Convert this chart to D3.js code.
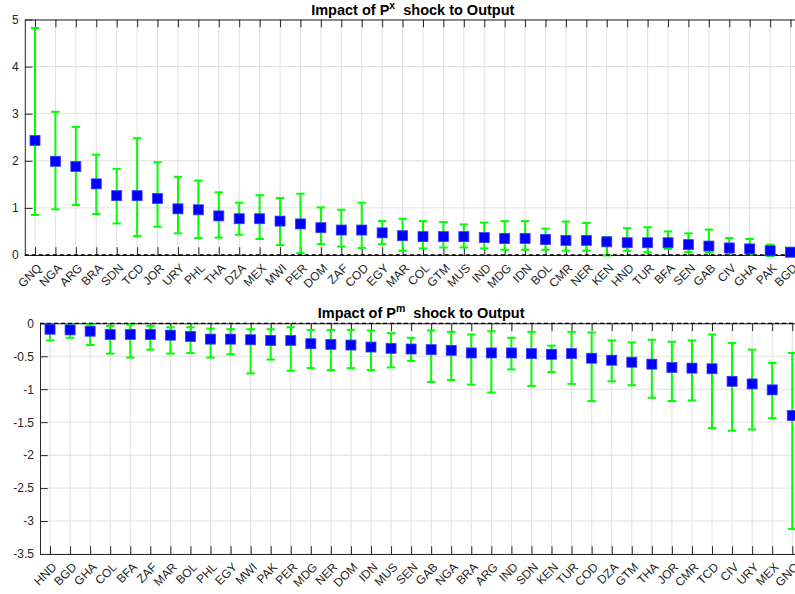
<!DOCTYPE html>
<html>
<head>
<meta charset="utf-8">
<script src="https://cdn.jsdelivr.net/npm/d3@7"></script>
<style>
  body { margin: 0; background: #fff; }
  svg { display: block; font-family: "Liberation Sans", Arial, Helvetica, sans-serif; }
</style>
</head>
<body>
<svg id="chart" width="795" height="594"></svg>
<script>
// Impact of Px shock (top panel)
const pxCountries = ["GNQ","NGA","ARG","BRA","SDN","TCD","JOR","URY","PHL","THA","DZA","MEX","MWI","PER","DOM","ZAF","COD","EGY","MAR","COL","GTM","MUS","IND","MDG","IDN","BOL","CMR","NER","KEN","HND","TUR","BFA","SEN","GAB","CIV","GHA","PAK","BGD"];
const pxMean = [2.43,1.99,1.88,1.51,1.26,1.26,1.20,0.98,0.96,0.83,0.77,0.77,0.72,0.66,0.58,0.53,0.53,0.47,0.41,0.39,0.39,0.39,0.37,0.35,0.35,0.33,0.31,0.31,0.28,0.26,0.26,0.26,0.22,0.19,0.15,0.13,0.09,0.06];
const pxLow  = [0.85,0.97,1.06,0.87,0.67,0.40,0.60,0.46,0.36,0.37,0.43,0.34,0.21,0.04,0.23,0.18,0.15,0.23,0.09,0.14,0.16,0.16,0.14,0.11,0.11,0.11,0.09,0.09,-0.01,0.09,0.06,0.13,0.06,0.05,0.04,0.01,-0.02,-0.03];
const pxHigh = [4.82,3.04,2.72,2.13,1.83,2.48,1.97,1.66,1.58,1.33,1.11,1.27,1.21,1.30,1.01,0.96,1.11,0.72,0.77,0.72,0.70,0.65,0.69,0.72,0.72,0.56,0.71,0.68,0.38,0.57,0.59,0.50,0.46,0.54,0.36,0.34,0.22,0.15];

// Impact of Pm shock (bottom panel)
const pmCountries = ["HND","BGD","GHA","COL","BFA","ZAF","MAR","BOL","PHL","EGY","MWI","PAK","PER","MDG","NER","DOM","IDN","MUS","SEN","GAB","NGA","BRA","ARG","IND","SDN","KEN","TUR","COD","DZA","GTM","THA","JOR","CMR","TCD","CIV","URY","MEX","GNQ"];
const pmMean = [-0.09,-0.10,-0.12,-0.17,-0.17,-0.17,-0.18,-0.20,-0.24,-0.24,-0.25,-0.26,-0.26,-0.31,-0.32,-0.33,-0.36,-0.38,-0.39,-0.40,-0.41,-0.45,-0.45,-0.45,-0.46,-0.47,-0.46,-0.53,-0.56,-0.59,-0.62,-0.67,-0.68,-0.69,-0.88,-0.92,-1.01,-1.40];
const pmLow  = [-0.26,-0.22,-0.33,-0.46,-0.52,-0.40,-0.46,-0.45,-0.52,-0.47,-0.76,-0.55,-0.72,-0.68,-0.71,-0.68,-0.71,-0.67,-0.57,-0.89,-0.86,-0.93,-1.05,-0.70,-0.95,-0.74,-0.92,-1.18,-0.88,-0.94,-1.13,-1.18,-1.17,-1.59,-1.63,-1.61,-1.44,-3.12];
const pmHigh = [-0.02,-0.02,-0.02,-0.04,-0.02,-0.04,-0.06,-0.06,-0.08,-0.09,-0.09,-0.09,-0.06,-0.10,-0.10,-0.10,-0.11,-0.15,-0.22,-0.11,-0.13,-0.17,-0.12,-0.22,-0.13,-0.34,-0.13,-0.14,-0.26,-0.29,-0.25,-0.28,-0.26,-0.17,-0.30,-0.40,-0.60,-0.45];

const pxTicks = [0,1,2,3,4,5];
const pmTicks = [-3.5,-3,-2.5,-2,-1.5,-1,-0.5,0];

const svg = d3.select("#chart");
svg.append("rect").attr("width", 795).attr("height", 594).attr("fill", "#fff");

const axisColor = "#262626";

function drawPanel(p) {
  const n = p.countries.length;
  const x = d3.scaleLinear().domain([0.5, n + 0.5]).range([p.left, p.left + n * p.step]);
  const y = d3.scaleLinear().domain(p.ydomain).range([p.bottom, p.top]);
  const [x0, x1] = x.range();

  const g = svg.append("g");

  // grid
  g.append("g").selectAll("line.hg").data(p.yticks).join("line")
    .attr("x1", x0).attr("x2", x1)
    .attr("y1", d => y(d)).attr("y2", d => y(d))
    .attr("stroke", "#e0e0e0").attr("stroke-width", 1);
  g.append("g").selectAll("line.vg").data(d3.range(1, n + 1)).join("line")
    .attr("x1", d => x(d)).attr("x2", d => x(d))
    .attr("y1", p.top).attr("y2", p.bottom)
    .attr("stroke", "#e0e0e0").attr("stroke-width", 1);

  // axes (inward ticks)
  const tl = 7.8;
  const yAxis = g.append("g").attr("transform", `translate(${x0},0)`)
    .call(d3.axisLeft(y).tickValues(p.yticks).tickSizeInner(-tl).tickSizeOuter(0)
      .tickPadding(6).tickFormat(d => String(d)));
  const xAxis = g.append("g").attr("transform", `translate(0,${p.bottom})`)
    .call(d3.axisBottom(x).tickValues(d3.range(1, n + 1)).tickSizeInner(-tl).tickSizeOuter(0)
      .tickFormat(d => p.countries[d - 1]));
  const xTop = g.append("g").attr("transform", `translate(0,${p.top})`)
    .call(d3.axisTop(x).tickValues(d3.range(1, n + 1)).tickSizeInner(-tl).tickSizeOuter(0)
      .tickFormat(""));
  [yAxis, xAxis, xTop].forEach(a => {
    a.select(".domain").attr("stroke", axisColor);
    a.selectAll(".tick line").attr("stroke", axisColor);
    a.selectAll("text").attr("fill", axisColor).attr("font-size", 12)
      .attr("font-family", "'Liberation Sans', Arial, Helvetica, sans-serif");
  });
  xAxis.selectAll(".tick text")
    .attr("x", 0).attr("y", 0).attr("dy", null)
    .attr("text-anchor", "end")
    .attr("dominant-baseline", "central")
    .attr("transform", "translate(4,11) rotate(-45)");

  // error bars
  const cap = 4.2;
  const eb = g.append("g").selectAll("g").data(p.countries.map((c, i) => ({
    i: i + 1, m: p.mean[i], lo: p.low[i], hi: p.high[i]
  }))).join("g").attr("stroke", "#00ff00").attr("stroke-width", 2);
  eb.append("line")
    .attr("x1", d => x(d.i)).attr("x2", d => x(d.i))
    .attr("y1", d => y(d.lo)).attr("y2", d => y(d.hi));
  eb.append("line")
    .attr("x1", d => x(d.i) - cap).attr("x2", d => x(d.i) + cap)
    .attr("y1", d => y(d.lo)).attr("y2", d => y(d.lo));
  eb.append("line")
    .attr("x1", d => x(d.i) - cap).attr("x2", d => x(d.i) + cap)
    .attr("y1", d => y(d.hi)).attr("y2", d => y(d.hi));

  // zero reference line
  g.append("line")
    .attr("x1", x0).attr("x2", x1).attr("y1", y(0)).attr("y2", y(0))
    .attr("stroke", "#000").attr("stroke-width", 1.3).attr("stroke-dasharray", "4,3");

  // markers
  const ms = 10;
  g.append("g").selectAll("rect").data(p.mean).join("rect")
    .attr("x", (d, i) => x(i + 1) - ms / 2)
    .attr("y", d => y(d) - ms / 2)
    .attr("width", ms).attr("height", ms)
    .attr("fill", "#0000ff").attr("stroke", "#3a3aff").attr("stroke-width", 0.8);

  // title
  const t = svg.append("text")
    .attr("x", (x0 + x1) / 2).attr("y", p.titleY)
    .attr("text-anchor", "middle")
    .attr("font-weight", "bold").attr("font-size", 14.5).attr("fill", "#000");
  t.append("tspan").text("Impact of P");
  t.append("tspan").attr("dy", -6).attr("font-size", 10.5).text(p.sup);
  t.append("tspan").attr("dy", 6).text("\u00a0 shock to Output");
}

drawPanel({
  countries: pxCountries, mean: pxMean, low: pxLow, high: pxHigh,
  ydomain: [0, 5], yticks: pxTicks,
  left: 24.8, step: 20.42, top: 19.5, bottom: 255, titleY: 15, sup: "x"
});
drawPanel({
  countries: pmCountries, mean: pmMean, low: pmLow, high: pmHigh,
  ydomain: [-3.5, 0], yticks: pmTicks,
  left: 40, step: 20.06, top: 323.3, bottom: 554, titleY: 318, sup: "m"
});
</script>
</body>
</html>
